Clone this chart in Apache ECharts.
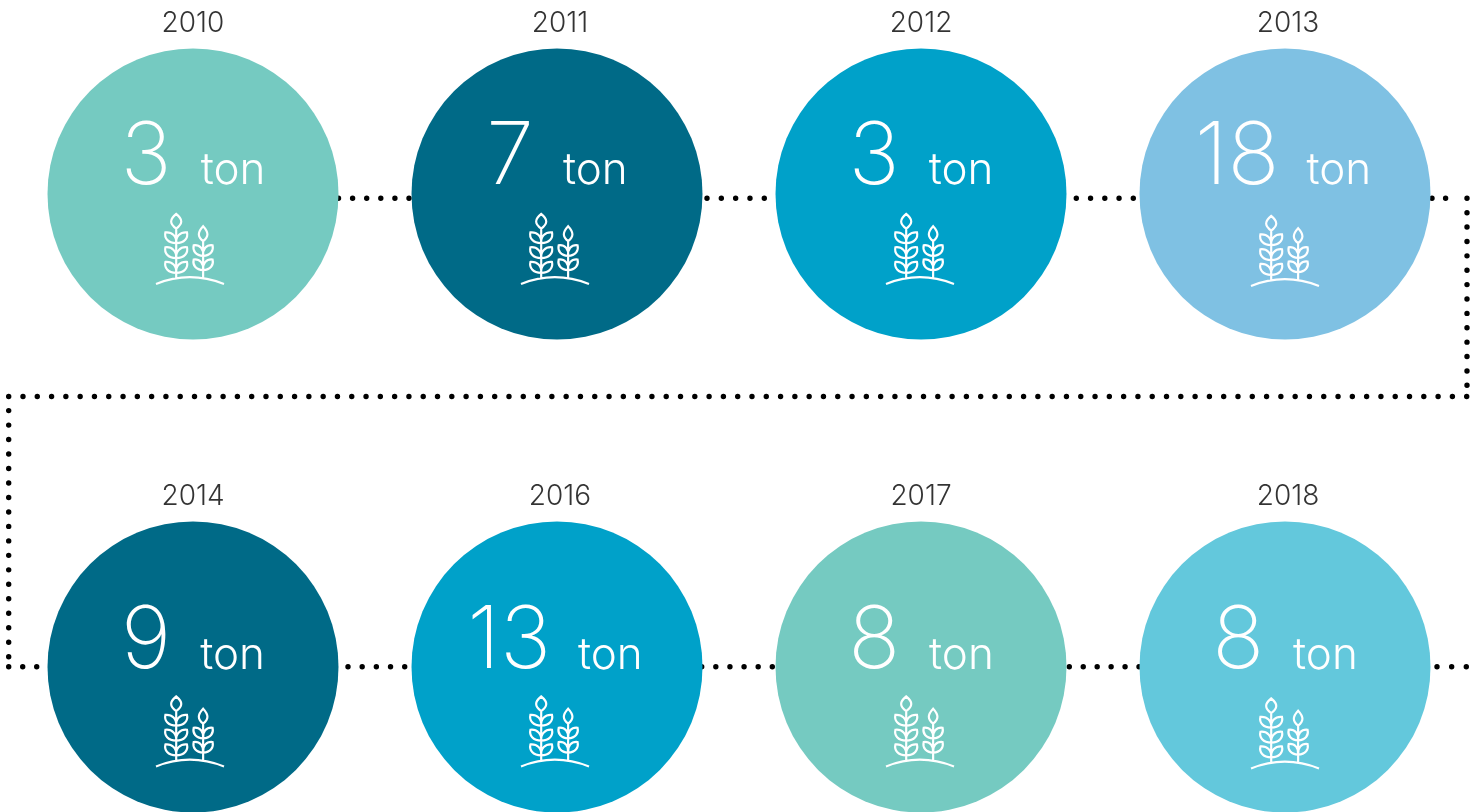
<!DOCTYPE html>
<html>
<head>
<meta charset="utf-8">
<title>ton per year</title>
<script src="https://cdn.jsdelivr.net/npm/echarts@6/dist/echarts.min.js"></script>
<style>
html, body { margin: 0; padding: 0; background: #fff; }
#chart { width: 1482px; height: 812px; }
</style>
</head>
<body>
<div id="chart"></div>
<script>
var years = ['2010', '2011', '2012', '2013', '2014', '2016', '2017', '2018'];
var tons = [3, 7, 3, 18, 9, 13, 8, 8];
var columns = ['a', 'b', 'c', 'd'];
var rows = ['top', 'bottom'];
var palette = ['#75cac1', '#006a87', '#00a1c9', '#7fc1e3', '#006a87', '#00a1c9', '#75cac1', '#63c8dc'];

// dotted connector runs on the page scale: x0, y0, x1, y1, number of dots
var connectorRuns = [
    [338.5, 198.3, 409, 198.3, 6],
    [707, 198.3, 764.3, 198.3, 5],
    [1076.3, 198.3, 1133.3, 198.3, 5],
    [1432, 198.3, 1445.6, 198.3, 2],
    [1467, 198.3, 1467, 385.3, 14],
    [1466.7, 396.5, 8.7, 396.5, 103],
    [8.7, 410.6, 8.7, 656.7, 18],
    [8.7, 666.7, 36.7, 666.7, 3],
    [348, 666.7, 404.7, 666.7, 5],
    [701.7, 666.7, 772.3, 666.7, 6],
    [1069.3, 666.7, 1139, 666.7, 6],
    [1437, 666.7, 1466.3, 666.7, 3]
];

var wheatIcon = 'path://M50 248Q150 208 252 248' +
    'M110 85C90 70 90 58 110 42C130 58 130 70 110 85ZM110 85L110 232' +
    'M110 128C85 128 74 112 78 96C98 94 112 108 110 128ZM110 128C135 128 146 112 142 96C122 94 108 108 110 128Z' +
    'M110 172C85 172 74 156 78 140C98 138 112 152 110 172ZM110 172C135 172 146 156 142 140C122 138 108 152 110 172Z' +
    'M110 215C85 215 74 199 78 183C98 181 112 195 110 215ZM110 215C135 215 146 199 142 183C122 181 108 195 110 215Z' +
    'M190 122C173 108 173 96 190 78C207 96 207 108 190 122ZM190 122L190 228' +
    'M190 165C168 165 158 150 162 134C181 132 192 146 190 165ZM190 165C212 165 222 150 218 134C199 132 188 146 190 165Z' +
    'M190 207C168 207 158 192 162 176C181 174 192 188 190 207ZM190 207C212 207 222 192 218 176C199 174 188 188 190 207Z';

var fontName = 'Inter';

function cell(i) {
    return [columns[i % 4], rows[Math.floor(i / 4)]];
}

var series = connectorRuns.map(function (run) {
    var len = Math.sqrt(Math.pow(run[2] - run[0], 2) + Math.pow(run[3] - run[1], 2));
    return {
        type: 'line',
        xAxisIndex: 1,
        yAxisIndex: 1,
        z: 1,
        silent: true,
        clip: false,
        symbol: 'none',
        animation: false,
        lineStyle: { color: '#000', width: 5.4, cap: 'round', type: [0.01, len / (run[4] - 1) - 0.01] },
        data: [[run[0], run[1]], [run[2] + (run[2] >= run[0] && run[3] == run[1] ? 0.3 : run[3] == run[1] ? -0.3 : 0), run[3] + (run[3] != run[1] ? 0.3 : 0)]]
    };
});

// circles carrying the value and its unit
series.push({
    type: 'scatter',
    z: 2,
    clip: false,
    symbolSize: 291,
    animation: false,
    data: tons.map(function (t, i) {
        return {
            value: cell(i),
            itemStyle: { color: palette[i], opacity: 1 },
            label: {
                show: true,
                position: 'inside',
                offset: [t < 10 ? 0 : -2, i < 4 ? -36 : -24.5],
                formatter: '{num|' + t + '}{unit|ton}',
                rich: {
                    num: { fontFamily: fontName, fontWeight: 200, fontSize: 86, color: '#fff', verticalAlign: 'bottom' },
                    unit: { fontFamily: fontName, fontWeight: 300, fontSize: 44, color: '#fff', verticalAlign: 'bottom', padding: [0, 0, 8, t < 10 ? 29 : 27] }
                }
            }
        };
    })
});

// wheat icon inside each circle
series.push({
    type: 'scatter',
    z: 3,
    clip: false,
    symbol: wheatIcon,
    symbolSize: [68, 70],
    animation: false,
    itemStyle: { color: 'transparent', borderColor: '#fff', borderWidth: 2.2, opacity: 1 },
    data: tons.map(function (t, i) {
        return {
            value: cell(i),
            symbolOffset: [i % 4 - 3, (i < 4 ? 55 : 64.5) + (i % 4 == 3 ? 2 : 0)]
        };
    })
});

// year above each circle
series.push({
    type: 'scatter',
    z: 3,
    clip: false,
    symbolSize: 1,
    animation: false,
    itemStyle: { color: 'transparent' },
    data: years.map(function (y, i) {
        return {
            value: cell(i),
            label: {
                show: true,
                position: 'inside',
                offset: [i % 2 ? 3 : 0, i < 4 ? -170 : -170.5],
                formatter: y,
                fontFamily: fontName,
                fontWeight: 300,
                fontSize: 28,
                color: '#000'
            }
        };
    })
});

var chart = echarts.init(document.getElementById('chart'));
chart.setOption({
    backgroundColor: '#fff',
    grid: [
        { left: 11, top: 194, width: 1456, height: 473 },
        { left: 0, top: 0, width: 1482, height: 812 }
    ],
    xAxis: [
        { type: 'category', gridIndex: 0, data: columns, show: false },
        { type: 'value', gridIndex: 1, min: 0, max: 1482, show: false }
    ],
    yAxis: [
        { type: 'category', gridIndex: 0, data: rows, inverse: true, boundaryGap: false, show: false },
        { type: 'value', gridIndex: 1, min: 0, max: 812, inverse: true, show: false }
    ],
    series: series
});
</script>
</body>
</html>
